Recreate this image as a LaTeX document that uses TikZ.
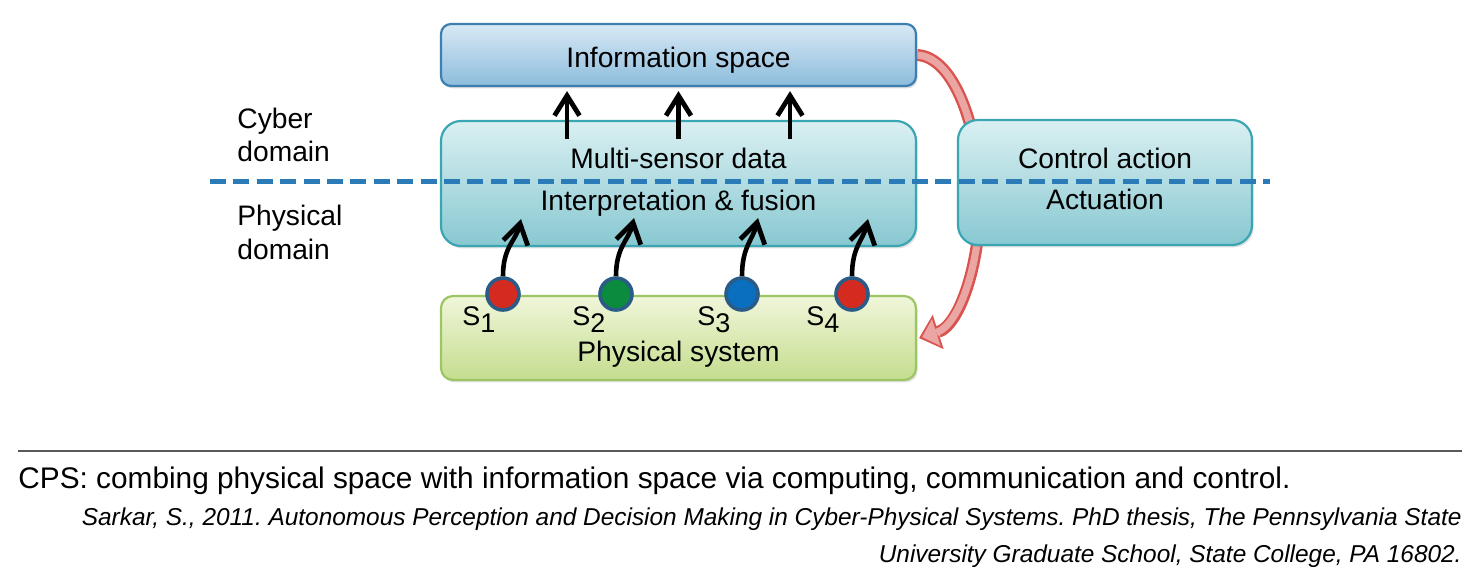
\documentclass[tikz,border=0pt]{standalone}
\usepackage{fontspec}
\setmainfont{Liberation Sans}
\usetikzlibrary{arrows.meta,shadows,backgrounds}
\frenchspacing

\definecolor{infotop}{HTML}{D8E9F5}
\definecolor{infobot}{HTML}{8CBCDC}
\definecolor{infoline}{HTML}{3E7FB1}
\definecolor{tealtop}{HTML}{DAF0F2}
\definecolor{tealbot}{HTML}{88C8D1}
\definecolor{tealline}{HTML}{3AA6B3}
\definecolor{phystop}{HTML}{F0F6DA}
\definecolor{physbot}{HTML}{C4DD8E}
\definecolor{physline}{HTML}{9CC563}
\definecolor{dashblue}{HTML}{2B7BB9}
\definecolor{arrowred}{HTML}{D9534F}
\definecolor{arrowpink}{HTML}{EBA5A3}
\definecolor{sensorline}{HTML}{2B5C87}
\definecolor{sred}{HTML}{D42A20}
\definecolor{sgreen}{HTML}{0B8B3E}
\definecolor{sblue}{HTML}{0A6FBF}

\newcommand{\sname}[1]{S\raisebox{-3.5pt}{#1}}

\tikzset{
    box/.style={draw, line width=1.1pt, inner sep=0pt,
        drop shadow={shadow xshift=0.8pt, shadow yshift=-1.2pt, opacity=0.25}},
    infobox/.style={box, draw=infoline, top color=infotop, bottom color=infobot,
        rounded corners=5pt, minimum width=237.5pt, minimum height=31pt},
    tealbox/.style={box, draw=tealline, top color=tealtop, bottom color=tealbot,
        rounded corners=10pt, minimum height=62.5pt},
    physbox/.style={box, draw=physline, top color=phystop, bottom color=physbot,
        rounded corners=6pt, minimum width=237.5pt, minimum height=42pt},
    txt/.style={font=\fontsize{14.1}{16.75}\selectfont, anchor=base, inner sep=0pt},
    sidetxt/.style={txt, anchor=base west, align=left},
    sensor/.style={circle, draw=sensorline, line width=1.8pt, minimum size=16pt, inner sep=0pt},
    sensortxt/.style={font=\fontsize{13.5}{13.5}\selectfont, anchor=base west, inner sep=0pt},
    uparrow/.style={line width=2.3pt, -{Straight Barb[length=10pt,width=12.5pt,line width=2.4pt]}},
    domainline/.style={dashblue, line width=2.5pt, dash pattern=on 8pt off 3.7pt},
    reftxt/.style={txt, anchor=base east, font=\fontsize{12.2}{12.2}\selectfont\itshape},
}

\begin{document}
\begin{tikzpicture}[x=0.5pt, y=-0.5pt]
    \useasboundingbox (0,0) rectangle (1482,586);

    % boxes
    \node[infobox] (info) at (678.5,55) {};
    \node[txt] (infotxt) at (678.5,67) {Information space};

    \node[tealbox, minimum width=237.5pt] (multi) at (678.5,183.5) {};
    \node[txt] (multitxt) at (678.5,168) {Multi-sensor data};
    \node[txt] (fusiontxt) at (678.5,210) {Interpretation \& fusion};

    \node[tealbox, minimum width=147pt] (ctrl) at (1105,182.5) {};
    \node[txt] (ctrltxt) at (1105,168) {Control action};
    \node[txt] (acttxt) at (1105,209) {Actuation};

    \node[physbox] (phys) at (678.5,338) {};
    \node[txt] (phystxt) at (678.5,361) {Physical system};

    % feedback loop behind the boxes
    \begin{pgfonlayer}{background}
        \coordinate (bend) at (980,190);
        \draw[arrowred, line width=6pt] (info.east) .. controls (955,57) and (978,130) .. (bend)
            .. controls (982,260) and (960,325) .. ([xshift=1pt]phys.east)
            [-{Triangle[length=10pt,width=18pt,line width=0pt]}];
        \draw[arrowpink, line width=3.6pt, shorten >=1.6pt] (info.east) .. controls (955,57) and (978,130) .. (bend)
            .. controls (982,260) and (960,325) .. ([xshift=1pt]phys.east)
            [-{Triangle[length=7.4pt,width=14pt,line width=0pt]}];
    \end{pgfonlayer}

    % domains
    \node[sidetxt] (cyber) at (237,161.7) {Cyber\\domain};
    \node[sidetxt] (physdom) at (237,259) {Physical\\domain};
    \coordinate (dashL) at (210,181);
    \coordinate (dashR) at (1270,181);
    \draw[domainline] (dashL) -- (dashR);

    % data to information space
    \draw[uparrow] ([xshift=-55.75pt,yshift=-9.5pt]multi.north) -- ([xshift=-55.75pt,yshift=-2pt]info.south);
    \draw[uparrow] ([yshift=-9.5pt]multi.north) -- ([yshift=-2pt]info.south);
    \draw[uparrow] ([xshift=55.75pt,yshift=-9.5pt]multi.north) -- ([xshift=55.75pt,yshift=-2pt]info.south);

    % sensors
    \node[sensor, fill=sred] (s1) at (503,294) {};
    \node[sensor, fill=sgreen] (s2) at (616,294) {};
    \node[sensor, fill=sblue] (s3) at (742,294) {};
    \node[sensor, fill=sred] (s4) at (852,294) {};
    \node[sensortxt] (s1txt) at (462,325) {\sname{1}};
    \node[sensortxt] (s2txt) at (572,325) {\sname{2}};
    \node[sensortxt] (s3txt) at (697,325) {\sname{3}};
    \node[sensortxt] (s4txt) at (806,325) {\sname{4}};

    \coordinate (t1) at (521,219);
    \coordinate (t2) at (634,218);
    \coordinate (t3) at (758,218);
    \coordinate (t4) at (868,219);
    \draw[uparrow] (s1.north) .. controls +(0,-30) and +(-5,22) .. (t1);
    \draw[uparrow] (s2.north) .. controls +(0,-30) and +(-5,22) .. (t2);
    \draw[uparrow] (s3.north) .. controls +(0,-30) and +(-5,22) .. (t3);
    \draw[uparrow] (s4.north) .. controls +(0,-30) and +(-5,22) .. (t4);

    % caption
    \coordinate (ruleL) at (18,451);
    \coordinate (ruleR) at (1462,451);
    \draw[black!65, line width=1pt] (ruleL) -- (ruleR);
    \node[txt, anchor=base west, font=\fontsize{14.9}{14.9}\selectfont] (cap) at (18,488)
        {CPS: combing physical space with information space via computing, communication and control.};
    \node[reftxt] (ref1) at (1462,525)
        {Sarkar, S., 2011. Autonomous Perception and Decision Making in Cyber-Physical Systems. PhD thesis, The Pennsylvania State};
    \node[reftxt] (ref2) at (1462,562)
        {University Graduate School, State College, PA 16802.};
\end{tikzpicture}
\end{document}
